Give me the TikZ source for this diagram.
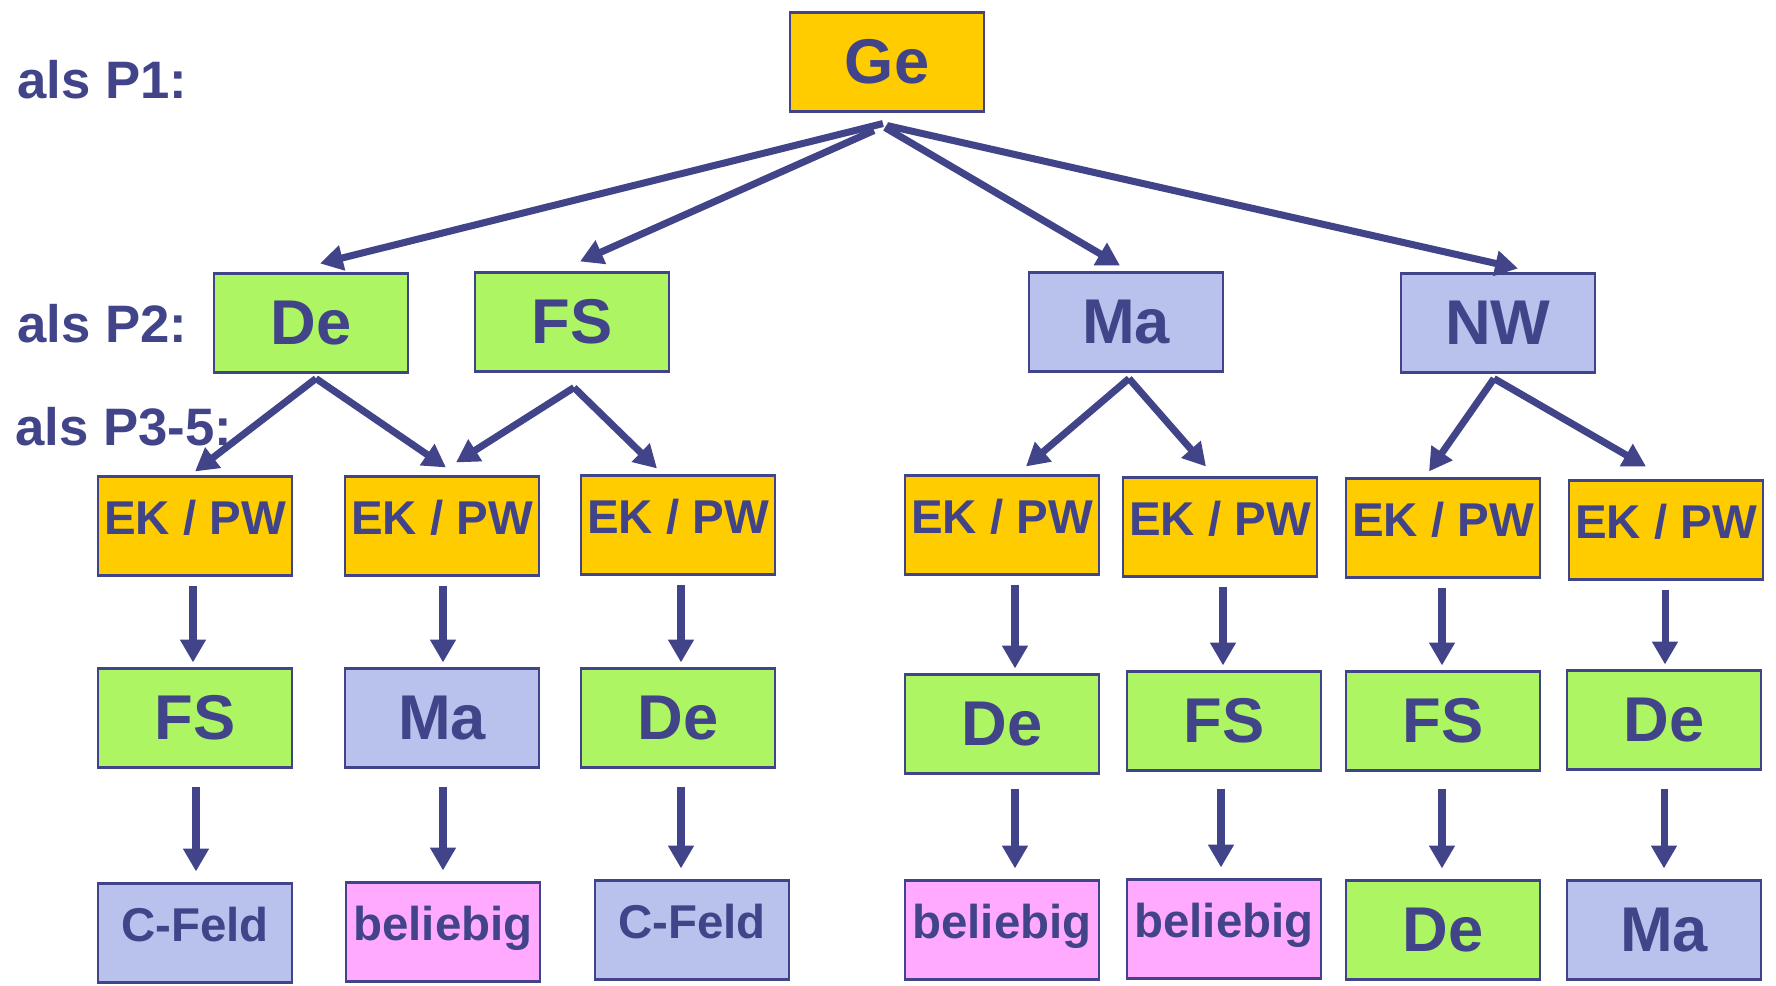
\documentclass[tikz,border=0pt]{standalone}
\usepackage{fontspec}
\setmainfont{Liberation Sans}
\usetikzlibrary{arrows.meta,calc}
\definecolor{ink}{RGB}{65,68,137}
\definecolor{pgold}{RGB}{255,204,0}
\definecolor{pgreen}{RGB}{173,245,98}
\definecolor{pblue}{RGB}{184,194,236}
\definecolor{ppink}{RGB}{255,170,255}
\tikzset{
	box/.style={draw=ink, line width=1.2pt, minimum width=3.88cm, minimum height=1.98cm, inner sep=0pt, text=ink, font=\bfseries\fontsize{36}{36}\selectfont},
	smallbox/.style={box, font=\bfseries\fontsize{27}{27}\selectfont, text depth=0.36cm},
	arr/.style={draw=ink, line width=4pt, -{Triangle[length=13pt,width=14pt]}},
	lbl/.style={anchor=base west, inner sep=0pt, text=ink, font=\bfseries\fontsize{30}{30}\selectfont}
}

\begin{document}
\begin{tikzpicture}[line cap=butt,line join=miter,x=0.02cm,y=-0.02cm]
	\useasboundingbox (0,0) rectangle (1776,985);
	% Zeilenbeschriftung
	\node[lbl] (lp1) at (17,98) {als P1:};
	\node[lbl] (lp2) at (17,342) {als P2:};
	\node[lbl] (lp3) at (15,445) {als P3-5:};
	% P1
	\node[box,fill=pgold] (ge) at (887,62) {Ge};
	% P2
	\node[box,fill=pgreen] (de) at (311,323) {De};
	\node[box,fill=pgreen] (fs) at (572,322) {FS};
	\node[box,fill=pblue] (ma) at (1126,322) {Ma};
	\node[box,fill=pblue] (nw) at (1498,323) {NW};
	% P3-5: EK / PW
	\node[smallbox,fill=pgold] (ek1) at (195,526) {EK / PW};
	\node[smallbox,fill=pgold] (ek2) at (442,526) {EK / PW};
	\node[smallbox,fill=pgold] (ek3) at (678,525) {EK / PW};
	\node[smallbox,fill=pgold] (ek4) at (1002,525) {EK / PW};
	\node[smallbox,fill=pgold] (ek5) at (1220,527) {EK / PW};
	\node[smallbox,fill=pgold] (ek6) at (1443,528) {EK / PW};
	\node[smallbox,fill=pgold] (ek7) at (1666,530) {EK / PW};
	% dritte Reihe
	\node[box,fill=pgreen] (ra1) at (195,718) {FS};
	\node[box,fill=pblue] (ra2) at (442,718) {Ma};
	\node[box,fill=pgreen] (ra3) at (678,718) {De};
	\node[box,fill=pgreen] (ra4) at (1002,724) {De};
	\node[box,fill=pgreen] (ra5) at (1224,721) {FS};
	\node[box,fill=pgreen] (ra6) at (1443,721) {FS};
	\node[box,fill=pgreen] (ra7) at (1664,720) {De};
	% vierte Reihe
	\node[smallbox,fill=pblue] (rb1) at (195,933) {C-Feld};
	\node[smallbox,fill=ppink] (rb2) at (443,932) {beliebig};
	\node[smallbox,fill=pblue] (rb3) at (692,930) {C-Feld};
	\node[smallbox,fill=ppink] (rb4) at (1002,930) {beliebig};
	\node[smallbox,fill=ppink] (rb5) at (1224,929) {beliebig};
	\node[box,fill=pgreen] (rb6) at (1443,930) {De};
	\node[box,fill=pblue] (rb7) at (1664,930) {Ma};

	% Ge -> P2
	\draw[arr] ($(ge.south)+(-4,11)$) -- ($(de.north)+(9,-9)$);
	\draw[arr] ($(ge.south)+(-13,18)$) -- ($(fs.north)+(8,-10)$);
	\draw[arr] ($(ge.south)+(-2,15)$) -- ($(ma.north)+(-6,-6)$);
	\draw[arr] ($(ge.south)+(0,13)$) -- ($(nw.north)+(20,-4)$);
	% P2 -> EK / PW
	\draw[arr] ($(de.south)+(5,5)$) -- ($(ek1.north)+(0,-4)$);
	\draw[arr] ($(de.south)+(5,5)$) -- ($(ek2.north)+(4,-8)$);
	\draw[arr] ($(fs.south)+(2,15)$) -- ($(ek2.north)+(14,-13)$);
	\draw[arr] ($(fs.south)+(2,15)$) -- ($(ek3.north)+(-21,-6)$);
	\draw[arr] ($(ma.south)+(3,6)$) -- ($(ek4.north)+(24,-8)$);
	\draw[arr] ($(ma.south)+(3,6)$) -- ($(ek5.north)+(-14,-10)$);
	\draw[arr] ($(nw.south)+(-4,5)$) -- ($(ek6.north)+(-14,-6)$);
	\draw[arr] ($(nw.south)+(-4,5)$) -- ($(ek7.north)+(-20,-13)$);
	% EK / PW -> dritte Reihe
	\draw[arr] ($(ek1.south)+(-2,9)$) -- ($(ra1.north)+(-2,-5)$);
	\draw[arr] ($(ek2.south)+(1,9)$) -- ($(ra2.north)+(1,-5)$);
	\draw[arr] ($(ek3.south)+(3,9)$) -- ($(ra3.north)+(3,-5)$);
	\draw[arr] ($(ek4.south)+(13,9)$) -- ($(ra4.north)+(13,-5)$);
	\draw[arr] ($(ek5.south)+(3,9)$) -- ($(ra5.north)+(-1,-5)$);
	\draw[arr] ($(ek6.south)+(-1,9)$) -- ($(ra6.north)+(-1,-5)$);
	\draw[arr] ($(ek7.south)+(-1,9)$) -- ($(ra7.north)+(1,-5)$);
	% dritte -> vierte Reihe
	\draw[arr] ($(ra1.south)+(1,18)$) -- ($(rb1.north)+(1,-11)$);
	\draw[arr] ($(ra2.south)+(1,18)$) -- ($(rb2.north)+(0,-11)$);
	\draw[arr] ($(ra3.south)+(3,18)$) -- ($(rb3.north)+(-11,-11)$);
	\draw[arr] ($(ra4.south)+(13,14)$) -- ($(rb4.north)+(13,-11)$);
	\draw[arr] ($(ra5.south)+(-3,17)$) -- ($(rb5.north)+(-3,-11)$);
	\draw[arr] ($(ra6.south)+(-1,17)$) -- ($(rb6.north)+(-1,-11)$);
	\draw[arr] ($(ra7.south)+(0,18)$) -- ($(rb7.north)+(0,-11)$);
\end{tikzpicture}
\end{document}
